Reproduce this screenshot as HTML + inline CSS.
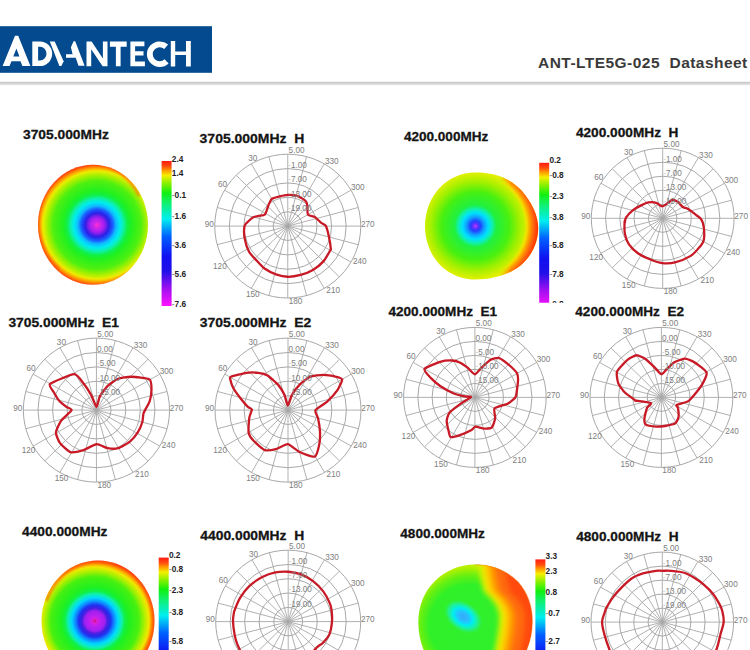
<!DOCTYPE html>
<html><head><meta charset="utf-8"><style>
html,body{margin:0;padding:0;background:#fff;width:750px;height:650px;overflow:hidden}
svg{display:block}
</style></head><body>
<svg width="750" height="650" viewBox="0 0 750 650">
<rect x="0" y="26.2" width="212" height="46.6" fill="#034b8e"/>
<g fill="#fff"><path fill-rule="evenodd" d="M2.6,66.1 L15,35.7 L18.2,35.7 L30.4,66.1 L22.4,66.1 L20.5,61.3 L11.5,61.3 L9.5,66.1 Z M16.4,48.4 L19.4,56.6 L13.3,56.6 Z"/><path fill-rule="evenodd" d="M32.3,41.5 H40 A12.2,12.3 0 0 1 40,66.1 H32.3 Z M38.1,46.7 H40 A6.5,6.95 0 0 1 40,60.6 H38.1 Z"/><path d="M49.8,41.5 L54.7,41.5 L63.6,61.2 L61.4,66 L59.4,66 Z"/><path fill-rule="evenodd" d="M73.6,41.3 L75.2,41.3 L84.6,65.8 L78.5,65.8 L75.7,57.8 L66,57.8 L66,54.2 L72.6,54.2 L70.9,47.2 Z"/><path d="M86.5,41.5 L91.6,41.5 L102.9,58.5 L102.9,41.5 L107.5,41.5 L107.5,66.3 L102.6,66.3 L91.2,49.3 L91.2,66.3 L86.5,66.3 Z"/><path d="M109.9,41.5 H126.7 V46.7 H120.6 V66.3 H115.9 V46.7 H109.9 Z"/><path d="M130.4,41.5 H144.4 V46.2 H135.1 V51.3 H143.5 V55.5 H135.1 V61.6 H144.9 V66.3 H130.4 Z"/><path d="M166.2,46.7 A9.9,9.9 0 1 0 166.6,61.3" fill="none" stroke="#fff" stroke-width="5.8"/><path d="M170.8,41 H175.2 V51.4 H186 V41 H190.8 V66.6 H186 V55 H175.2 V66.6 H170.8 Z"/></g>
<text x="538" y="67.8" font-family='"Liberation Sans", sans-serif' font-weight="bold" font-size="15.5" letter-spacing="0.46" fill="#3a3a3a" xml:space="preserve">ANT-LTE5G-025  Datasheet</text>
<rect x="0" y="81.8" width="750" height="1.2" fill="#c9c9c9"/><rect x="0" y="83" width="750" height="1" fill="#d4d4d4"/><rect x="0" y="84" width="750" height="1.2" fill="#e2e2e2"/>
<g>
<ellipse cx="287.75" cy="226.1" rx="14.60" ry="14.38" fill="none" stroke="#a8a8a8" stroke-width="1"/>
<ellipse cx="287.75" cy="226.1" rx="29.20" ry="28.76" fill="none" stroke="#a8a8a8" stroke-width="1"/>
<ellipse cx="287.75" cy="226.1" rx="43.80" ry="43.14" fill="none" stroke="#a8a8a8" stroke-width="1"/>
<ellipse cx="287.75" cy="226.1" rx="58.40" ry="57.52" fill="none" stroke="#a8a8a8" stroke-width="1"/>
<ellipse cx="287.75" cy="226.1" rx="73.00" ry="71.90" fill="none" stroke="#a8a8a8" stroke-width="1"/>
<line x1="287.75" y1="226.1" x2="287.75" y2="154.20" stroke="#a8a8a8" stroke-width="0.9"/>
<line x1="287.75" y1="226.1" x2="306.64" y2="156.65" stroke="#a8a8a8" stroke-width="0.9"/>
<line x1="287.75" y1="226.1" x2="324.25" y2="163.83" stroke="#a8a8a8" stroke-width="0.9"/>
<line x1="287.75" y1="226.1" x2="339.37" y2="175.26" stroke="#a8a8a8" stroke-width="0.9"/>
<line x1="287.75" y1="226.1" x2="350.97" y2="190.15" stroke="#a8a8a8" stroke-width="0.9"/>
<line x1="287.75" y1="226.1" x2="358.26" y2="207.49" stroke="#a8a8a8" stroke-width="0.9"/>
<line x1="287.75" y1="226.1" x2="360.75" y2="226.10" stroke="#a8a8a8" stroke-width="0.9"/>
<line x1="287.75" y1="226.1" x2="358.26" y2="244.71" stroke="#a8a8a8" stroke-width="0.9"/>
<line x1="287.75" y1="226.1" x2="350.97" y2="262.05" stroke="#a8a8a8" stroke-width="0.9"/>
<line x1="287.75" y1="226.1" x2="339.37" y2="276.94" stroke="#a8a8a8" stroke-width="0.9"/>
<line x1="287.75" y1="226.1" x2="324.25" y2="288.37" stroke="#a8a8a8" stroke-width="0.9"/>
<line x1="287.75" y1="226.1" x2="306.64" y2="295.55" stroke="#a8a8a8" stroke-width="0.9"/>
<line x1="287.75" y1="226.1" x2="287.75" y2="298.00" stroke="#a8a8a8" stroke-width="0.9"/>
<line x1="287.75" y1="226.1" x2="268.86" y2="295.55" stroke="#a8a8a8" stroke-width="0.9"/>
<line x1="287.75" y1="226.1" x2="251.25" y2="288.37" stroke="#a8a8a8" stroke-width="0.9"/>
<line x1="287.75" y1="226.1" x2="236.13" y2="276.94" stroke="#a8a8a8" stroke-width="0.9"/>
<line x1="287.75" y1="226.1" x2="224.53" y2="262.05" stroke="#a8a8a8" stroke-width="0.9"/>
<line x1="287.75" y1="226.1" x2="217.24" y2="244.71" stroke="#a8a8a8" stroke-width="0.9"/>
<line x1="287.75" y1="226.1" x2="214.75" y2="226.10" stroke="#a8a8a8" stroke-width="0.9"/>
<line x1="287.75" y1="226.1" x2="217.24" y2="207.49" stroke="#a8a8a8" stroke-width="0.9"/>
<line x1="287.75" y1="226.1" x2="224.53" y2="190.15" stroke="#a8a8a8" stroke-width="0.9"/>
<line x1="287.75" y1="226.1" x2="236.13" y2="175.26" stroke="#a8a8a8" stroke-width="0.9"/>
<line x1="287.75" y1="226.1" x2="251.25" y2="163.83" stroke="#a8a8a8" stroke-width="0.9"/>
<line x1="287.75" y1="226.1" x2="268.86" y2="156.65" stroke="#a8a8a8" stroke-width="0.9"/>
<path d="M287.69,194.92C285.62,195.03 281.62,195.94 279.69,196.40C277.77,196.86 273.38,198.18 272.31,198.62C271.23,199.05 271.51,199.15 271.08,199.85C270.65,200.54 269.63,202.31 268.86,204.15C268.09,206.00 266.18,213.15 264.92,214.62C263.66,216.08 260.15,215.54 258.77,215.85C257.38,216.15 255.08,216.46 253.85,217.08C252.62,217.69 250.08,219.69 248.92,220.77C247.77,221.85 245.15,223.54 244.62,225.69C244.08,227.85 244.08,234.77 244.62,238.00C245.15,241.23 247.46,248.77 248.92,251.54C250.38,254.31 254.31,258.00 256.31,260.15C258.31,262.31 262.46,267.00 264.92,268.77C267.38,270.54 273.15,273.31 276.00,274.31C278.85,275.31 284.62,276.69 287.69,276.77C290.77,276.85 297.46,275.77 300.62,274.92C303.77,274.08 310.08,271.69 312.92,270.00C315.77,268.31 321.23,263.82 323.38,261.38C325.54,258.95 329.23,252.17 330.15,250.55C331.08,248.94 330.92,250.18 330.77,248.46C330.62,246.74 329.54,239.58 328.92,236.77C328.31,233.95 326.85,227.71 325.85,225.94C324.85,224.17 322.31,223.72 320.92,222.62C319.54,221.51 316.38,218.08 314.77,217.08C313.15,216.08 308.92,216.00 308.00,214.62C307.08,213.23 307.62,207.62 307.38,206.00C307.15,204.38 306.77,202.62 306.15,201.69C305.54,200.77 303.69,199.38 302.46,198.62C301.23,197.85 298.15,196.00 296.31,195.54C294.46,195.08 289.77,194.82 287.69,194.92Z" fill="none" stroke="#c81a26" stroke-width="2.3" stroke-linejoin="round"/>
<g font-family='"Liberation Sans", sans-serif' font-size="8.2" fill="#7e7e7e">
<text x="324.98" y="163.98" text-anchor="start">330</text>
<text x="350.97" y="190.01" text-anchor="start">300</text>
<text x="360.97" y="226.96" text-anchor="start">270</text>
<text x="353.01" y="263.99" text-anchor="start">240</text>
<text x="326.37" y="292.97" text-anchor="start">210</text>
<text x="288.70" y="303.97" text-anchor="start">180</text>
<text x="245.99" y="297.28" text-anchor="start">150</text>
<text x="226.72" y="269.24" text-anchor="end">120</text>
<text x="213.80" y="226.82" text-anchor="end">90</text>
<text x="227.01" y="187.13" text-anchor="end">60</text>
<text x="248.18" y="160.81" text-anchor="start">30</text>
<text x="288.60" y="152.62">5.00</text>
<text x="288.25" y="167.98"><tspan fill-opacity="0.45">-</tspan>1.00</text>
<text x="288.25" y="182.36"><tspan fill-opacity="0.45">-</tspan>7.00</text>
<text x="288.25" y="196.74"><tspan fill-opacity="0.45">-</tspan>13.00</text>
<text x="288.25" y="211.12"><tspan fill-opacity="0.45">-</tspan>19.00</text>
</g>
</g>
<text x="199.6" y="143.4" transform="translate(0 143.4) scale(1 0.91) translate(0 -143.4)" font-family='"Liberation Sans", sans-serif' font-weight="bold" font-size="13.8" fill="#141414" stroke="#141414" stroke-width="0.3" xml:space="preserve" textLength="104.8" lengthAdjust="spacingAndGlyphs">3705.000MHz  H</text>
<g>
<ellipse cx="662.7" cy="218.3" rx="14.28" ry="14.02" fill="none" stroke="#a8a8a8" stroke-width="1"/>
<ellipse cx="662.7" cy="218.3" rx="28.56" ry="28.04" fill="none" stroke="#a8a8a8" stroke-width="1"/>
<ellipse cx="662.7" cy="218.3" rx="42.84" ry="42.06" fill="none" stroke="#a8a8a8" stroke-width="1"/>
<ellipse cx="662.7" cy="218.3" rx="57.12" ry="56.08" fill="none" stroke="#a8a8a8" stroke-width="1"/>
<ellipse cx="662.7" cy="218.3" rx="71.40" ry="70.10" fill="none" stroke="#a8a8a8" stroke-width="1"/>
<line x1="662.7" y1="218.3" x2="662.70" y2="148.20" stroke="#a8a8a8" stroke-width="0.9"/>
<line x1="662.7" y1="218.3" x2="681.18" y2="150.59" stroke="#a8a8a8" stroke-width="0.9"/>
<line x1="662.7" y1="218.3" x2="698.40" y2="157.59" stroke="#a8a8a8" stroke-width="0.9"/>
<line x1="662.7" y1="218.3" x2="713.19" y2="168.73" stroke="#a8a8a8" stroke-width="0.9"/>
<line x1="662.7" y1="218.3" x2="724.53" y2="183.25" stroke="#a8a8a8" stroke-width="0.9"/>
<line x1="662.7" y1="218.3" x2="731.67" y2="200.16" stroke="#a8a8a8" stroke-width="0.9"/>
<line x1="662.7" y1="218.3" x2="734.10" y2="218.30" stroke="#a8a8a8" stroke-width="0.9"/>
<line x1="662.7" y1="218.3" x2="731.67" y2="236.44" stroke="#a8a8a8" stroke-width="0.9"/>
<line x1="662.7" y1="218.3" x2="724.53" y2="253.35" stroke="#a8a8a8" stroke-width="0.9"/>
<line x1="662.7" y1="218.3" x2="713.19" y2="267.87" stroke="#a8a8a8" stroke-width="0.9"/>
<line x1="662.7" y1="218.3" x2="698.40" y2="279.01" stroke="#a8a8a8" stroke-width="0.9"/>
<line x1="662.7" y1="218.3" x2="681.18" y2="286.01" stroke="#a8a8a8" stroke-width="0.9"/>
<line x1="662.7" y1="218.3" x2="662.70" y2="288.40" stroke="#a8a8a8" stroke-width="0.9"/>
<line x1="662.7" y1="218.3" x2="644.22" y2="286.01" stroke="#a8a8a8" stroke-width="0.9"/>
<line x1="662.7" y1="218.3" x2="627.00" y2="279.01" stroke="#a8a8a8" stroke-width="0.9"/>
<line x1="662.7" y1="218.3" x2="612.21" y2="267.87" stroke="#a8a8a8" stroke-width="0.9"/>
<line x1="662.7" y1="218.3" x2="600.87" y2="253.35" stroke="#a8a8a8" stroke-width="0.9"/>
<line x1="662.7" y1="218.3" x2="593.73" y2="236.44" stroke="#a8a8a8" stroke-width="0.9"/>
<line x1="662.7" y1="218.3" x2="591.30" y2="218.30" stroke="#a8a8a8" stroke-width="0.9"/>
<line x1="662.7" y1="218.3" x2="593.73" y2="200.16" stroke="#a8a8a8" stroke-width="0.9"/>
<line x1="662.7" y1="218.3" x2="600.87" y2="183.25" stroke="#a8a8a8" stroke-width="0.9"/>
<line x1="662.7" y1="218.3" x2="612.21" y2="168.73" stroke="#a8a8a8" stroke-width="0.9"/>
<line x1="662.7" y1="218.3" x2="627.00" y2="157.59" stroke="#a8a8a8" stroke-width="0.9"/>
<line x1="662.7" y1="218.3" x2="644.22" y2="150.59" stroke="#a8a8a8" stroke-width="0.9"/>
<path d="M662.12,206.35C660.19,206.30 658.52,203.47 656.23,202.82C653.94,202.16 651.00,201.94 648.38,202.42C645.77,202.90 643.15,204.38 640.54,205.69C637.92,207.00 635.09,208.31 632.69,210.27C630.29,212.23 627.46,215.39 626.15,217.46C624.85,219.53 625.11,221.96 624.85,222.69C624.58,223.42 624.58,220.03 624.58,221.85C624.58,223.67 624.15,229.91 624.85,233.62C625.54,237.32 626.59,240.81 628.77,244.08C630.95,247.35 634.22,250.62 637.92,253.23C641.63,255.85 646.97,258.13 651.00,259.77C655.03,261.40 658.12,262.60 662.12,263.04C666.12,263.47 670.24,263.58 675.00,262.38C679.76,261.19 686.55,258.46 690.69,255.85C694.83,253.23 697.67,249.31 699.85,246.69C702.03,244.08 703.12,243.42 703.77,240.15C704.42,236.88 704.21,230.56 703.77,227.08C703.33,223.59 702.46,221.27 701.15,219.23C699.85,217.19 698.10,216.56 695.92,214.85C693.74,213.13 690.26,210.27 688.08,208.96C685.90,207.65 684.59,208.20 682.85,207.00C681.10,205.80 679.36,202.97 677.62,201.77C675.87,200.57 674.02,199.59 672.38,199.81C670.75,200.03 669.52,201.99 667.81,203.08C666.10,204.17 664.04,206.39 662.12,206.35Z" fill="none" stroke="#c81a26" stroke-width="2.3" stroke-linejoin="round"/>
<g font-family='"Liberation Sans", sans-serif' font-size="8.2" fill="#7e7e7e">
<text x="699.11" y="157.73" text-anchor="start">330</text>
<text x="724.53" y="183.11" text-anchor="start">300</text>
<text x="734.31" y="219.14" text-anchor="start">270</text>
<text x="726.53" y="255.24" text-anchor="start">240</text>
<text x="700.47" y="283.49" text-anchor="start">210</text>
<text x="663.63" y="294.22" text-anchor="start">180</text>
<text x="621.86" y="287.70" text-anchor="start">150</text>
<text x="603.01" y="260.36" text-anchor="end">120</text>
<text x="590.37" y="219.00" text-anchor="end">90</text>
<text x="603.30" y="180.31" text-anchor="end">60</text>
<text x="624.00" y="154.65" text-anchor="start">30</text>
<text x="663.55" y="146.66">5.00</text>
<text x="663.20" y="161.62"><tspan fill-opacity="0.45">-</tspan>1.00</text>
<text x="663.20" y="175.64"><tspan fill-opacity="0.45">-</tspan>7.00</text>
<text x="663.20" y="189.66"><tspan fill-opacity="0.45">-</tspan>13.00</text>
<text x="663.20" y="203.68"><tspan fill-opacity="0.45">-</tspan>19.00</text>
</g>
</g>
<text x="575.9" y="137.4" transform="translate(0 137.4) scale(1 0.91) translate(0 -137.4)" font-family='"Liberation Sans", sans-serif' font-weight="bold" font-size="13.8" fill="#141414" stroke="#141414" stroke-width="0.3" xml:space="preserve" textLength="102.6" lengthAdjust="spacingAndGlyphs">4200.000MHz  H</text>
<g>
<ellipse cx="96.45" cy="410.1" rx="14.62" ry="14.40" fill="none" stroke="#a8a8a8" stroke-width="1"/>
<ellipse cx="96.45" cy="410.1" rx="29.24" ry="28.80" fill="none" stroke="#a8a8a8" stroke-width="1"/>
<ellipse cx="96.45" cy="410.1" rx="43.86" ry="43.20" fill="none" stroke="#a8a8a8" stroke-width="1"/>
<ellipse cx="96.45" cy="410.1" rx="58.48" ry="57.60" fill="none" stroke="#a8a8a8" stroke-width="1"/>
<ellipse cx="96.45" cy="410.1" rx="73.10" ry="72.00" fill="none" stroke="#a8a8a8" stroke-width="1"/>
<line x1="96.45" y1="410.1" x2="96.45" y2="338.10" stroke="#a8a8a8" stroke-width="0.9"/>
<line x1="96.45" y1="410.1" x2="115.37" y2="340.55" stroke="#a8a8a8" stroke-width="0.9"/>
<line x1="96.45" y1="410.1" x2="133.00" y2="347.75" stroke="#a8a8a8" stroke-width="0.9"/>
<line x1="96.45" y1="410.1" x2="148.14" y2="359.19" stroke="#a8a8a8" stroke-width="0.9"/>
<line x1="96.45" y1="410.1" x2="159.76" y2="374.10" stroke="#a8a8a8" stroke-width="0.9"/>
<line x1="96.45" y1="410.1" x2="167.06" y2="391.47" stroke="#a8a8a8" stroke-width="0.9"/>
<line x1="96.45" y1="410.1" x2="169.55" y2="410.10" stroke="#a8a8a8" stroke-width="0.9"/>
<line x1="96.45" y1="410.1" x2="167.06" y2="428.73" stroke="#a8a8a8" stroke-width="0.9"/>
<line x1="96.45" y1="410.1" x2="159.76" y2="446.10" stroke="#a8a8a8" stroke-width="0.9"/>
<line x1="96.45" y1="410.1" x2="148.14" y2="461.01" stroke="#a8a8a8" stroke-width="0.9"/>
<line x1="96.45" y1="410.1" x2="133.00" y2="472.45" stroke="#a8a8a8" stroke-width="0.9"/>
<line x1="96.45" y1="410.1" x2="115.37" y2="479.65" stroke="#a8a8a8" stroke-width="0.9"/>
<line x1="96.45" y1="410.1" x2="96.45" y2="482.10" stroke="#a8a8a8" stroke-width="0.9"/>
<line x1="96.45" y1="410.1" x2="77.53" y2="479.65" stroke="#a8a8a8" stroke-width="0.9"/>
<line x1="96.45" y1="410.1" x2="59.90" y2="472.45" stroke="#a8a8a8" stroke-width="0.9"/>
<line x1="96.45" y1="410.1" x2="44.76" y2="461.01" stroke="#a8a8a8" stroke-width="0.9"/>
<line x1="96.45" y1="410.1" x2="33.14" y2="446.10" stroke="#a8a8a8" stroke-width="0.9"/>
<line x1="96.45" y1="410.1" x2="25.84" y2="428.73" stroke="#a8a8a8" stroke-width="0.9"/>
<line x1="96.45" y1="410.1" x2="23.35" y2="410.10" stroke="#a8a8a8" stroke-width="0.9"/>
<line x1="96.45" y1="410.1" x2="25.84" y2="391.47" stroke="#a8a8a8" stroke-width="0.9"/>
<line x1="96.45" y1="410.1" x2="33.14" y2="374.10" stroke="#a8a8a8" stroke-width="0.9"/>
<line x1="96.45" y1="410.1" x2="44.76" y2="359.19" stroke="#a8a8a8" stroke-width="0.9"/>
<line x1="96.45" y1="410.1" x2="59.90" y2="347.75" stroke="#a8a8a8" stroke-width="0.9"/>
<line x1="96.45" y1="410.1" x2="77.53" y2="340.55" stroke="#a8a8a8" stroke-width="0.9"/>
<path d="M96.46,406.85C95.67,406.73 92.43,397.23 91.23,395.08C90.03,392.92 84.94,385.23 83.38,383.31C81.83,381.39 77.29,374.09 74.23,374.15C71.17,374.21 51.90,382.28 50.04,383.96C48.18,385.64 53.06,390.84 53.96,392.46C54.86,394.08 58.71,400.30 59.85,401.62C60.98,402.93 65.31,406.07 66.38,406.85C67.46,407.63 72.09,408.85 71.62,410.12C71.14,411.38 62.59,418.64 61.15,420.69C59.72,422.74 56.04,430.42 55.92,432.46C55.80,434.50 58.53,441.12 59.85,442.92C61.16,444.72 68.15,451.42 70.31,452.08C72.47,452.74 80.99,450.83 83.38,450.12C85.78,449.40 94.23,444.41 96.46,444.23C98.69,444.05 105.70,447.79 107.69,448.15C109.68,448.51 116.12,448.75 118.15,448.15C120.19,447.55 128.12,443.05 129.92,441.62C131.72,440.18 136.63,434.26 137.77,432.46C138.91,430.66 141.81,423.80 142.35,422.00C142.89,420.20 142.99,414.71 143.65,412.85C144.31,410.98 148.82,403.72 149.54,401.62C150.26,399.51 151.50,391.88 151.50,389.85C151.50,387.81 151.40,380.58 149.54,379.38C147.68,378.19 134.11,376.83 131.23,376.77C128.35,376.71 120.31,377.89 118.15,378.73C116.00,379.57 109.37,384.30 107.69,385.92C106.01,387.54 100.88,394.47 99.85,396.38C98.82,398.30 97.25,406.97 96.46,406.85Z" fill="none" stroke="#c81a26" stroke-width="2.3" stroke-linejoin="round"/>
<g font-family='"Liberation Sans", sans-serif' font-size="8.2" fill="#7e7e7e">
<text x="133.73" y="347.89" text-anchor="start">330</text>
<text x="159.75" y="373.96" text-anchor="start">300</text>
<text x="169.77" y="410.96" text-anchor="start">270</text>
<text x="161.80" y="448.04" text-anchor="start">240</text>
<text x="135.12" y="477.06" text-anchor="start">210</text>
<text x="97.40" y="488.08" text-anchor="start">180</text>
<text x="54.64" y="481.38" text-anchor="start">150</text>
<text x="35.34" y="453.30" text-anchor="end">120</text>
<text x="22.40" y="410.82" text-anchor="end">90</text>
<text x="35.63" y="371.08" text-anchor="end">60</text>
<text x="56.83" y="344.72" text-anchor="start">30</text>
<text x="97.30" y="336.52">5.00</text>
<text x="96.95" y="351.90">0.00</text>
<text x="96.95" y="366.30"><tspan fill-opacity="0.45">-</tspan>5.00</text>
<text x="96.95" y="380.70"><tspan fill-opacity="0.45">-</tspan>10.00</text>
<text x="96.95" y="395.10"><tspan fill-opacity="0.45">-</tspan>15.00</text>
</g>
</g>
<text x="8.4" y="327.1" transform="translate(0 327.1) scale(1 0.91) translate(0 -327.1)" font-family='"Liberation Sans", sans-serif' font-weight="bold" font-size="13.8" fill="#141414" stroke="#141414" stroke-width="0.3" xml:space="preserve" textLength="110.6" lengthAdjust="spacingAndGlyphs">3705.000MHz  E1</text>
<g>
<ellipse cx="288.0" cy="410.1" rx="14.60" ry="14.40" fill="none" stroke="#a8a8a8" stroke-width="1"/>
<ellipse cx="288.0" cy="410.1" rx="29.20" ry="28.80" fill="none" stroke="#a8a8a8" stroke-width="1"/>
<ellipse cx="288.0" cy="410.1" rx="43.80" ry="43.20" fill="none" stroke="#a8a8a8" stroke-width="1"/>
<ellipse cx="288.0" cy="410.1" rx="58.40" ry="57.60" fill="none" stroke="#a8a8a8" stroke-width="1"/>
<ellipse cx="288.0" cy="410.1" rx="73.00" ry="72.00" fill="none" stroke="#a8a8a8" stroke-width="1"/>
<line x1="288.0" y1="410.1" x2="288.00" y2="338.10" stroke="#a8a8a8" stroke-width="0.9"/>
<line x1="288.0" y1="410.1" x2="306.89" y2="340.55" stroke="#a8a8a8" stroke-width="0.9"/>
<line x1="288.0" y1="410.1" x2="324.50" y2="347.75" stroke="#a8a8a8" stroke-width="0.9"/>
<line x1="288.0" y1="410.1" x2="339.62" y2="359.19" stroke="#a8a8a8" stroke-width="0.9"/>
<line x1="288.0" y1="410.1" x2="351.22" y2="374.10" stroke="#a8a8a8" stroke-width="0.9"/>
<line x1="288.0" y1="410.1" x2="358.51" y2="391.47" stroke="#a8a8a8" stroke-width="0.9"/>
<line x1="288.0" y1="410.1" x2="361.00" y2="410.10" stroke="#a8a8a8" stroke-width="0.9"/>
<line x1="288.0" y1="410.1" x2="358.51" y2="428.73" stroke="#a8a8a8" stroke-width="0.9"/>
<line x1="288.0" y1="410.1" x2="351.22" y2="446.10" stroke="#a8a8a8" stroke-width="0.9"/>
<line x1="288.0" y1="410.1" x2="339.62" y2="461.01" stroke="#a8a8a8" stroke-width="0.9"/>
<line x1="288.0" y1="410.1" x2="324.50" y2="472.45" stroke="#a8a8a8" stroke-width="0.9"/>
<line x1="288.0" y1="410.1" x2="306.89" y2="479.65" stroke="#a8a8a8" stroke-width="0.9"/>
<line x1="288.0" y1="410.1" x2="288.00" y2="482.10" stroke="#a8a8a8" stroke-width="0.9"/>
<line x1="288.0" y1="410.1" x2="269.11" y2="479.65" stroke="#a8a8a8" stroke-width="0.9"/>
<line x1="288.0" y1="410.1" x2="251.50" y2="472.45" stroke="#a8a8a8" stroke-width="0.9"/>
<line x1="288.0" y1="410.1" x2="236.38" y2="461.01" stroke="#a8a8a8" stroke-width="0.9"/>
<line x1="288.0" y1="410.1" x2="224.78" y2="446.10" stroke="#a8a8a8" stroke-width="0.9"/>
<line x1="288.0" y1="410.1" x2="217.49" y2="428.73" stroke="#a8a8a8" stroke-width="0.9"/>
<line x1="288.0" y1="410.1" x2="215.00" y2="410.10" stroke="#a8a8a8" stroke-width="0.9"/>
<line x1="288.0" y1="410.1" x2="217.49" y2="391.47" stroke="#a8a8a8" stroke-width="0.9"/>
<line x1="288.0" y1="410.1" x2="224.78" y2="374.10" stroke="#a8a8a8" stroke-width="0.9"/>
<line x1="288.0" y1="410.1" x2="236.38" y2="359.19" stroke="#a8a8a8" stroke-width="0.9"/>
<line x1="288.0" y1="410.1" x2="251.50" y2="347.75" stroke="#a8a8a8" stroke-width="0.9"/>
<line x1="288.0" y1="410.1" x2="269.11" y2="340.55" stroke="#a8a8a8" stroke-width="0.9"/>
<path d="M287.81,405.54C287.14,405.54 285.44,396.99 284.54,395.08C283.64,393.16 279.56,386.41 278.00,384.62C276.44,382.82 269.34,376.54 267.54,375.46C265.74,374.38 260.30,373.09 258.38,372.85C256.47,372.61 249.13,372.49 246.62,372.85C244.10,373.21 232.42,376.17 230.92,376.77C229.42,377.37 230.03,378.31 230.27,379.38C230.51,380.46 232.64,386.86 233.54,388.54C234.44,390.22 238.76,396.01 240.08,397.69C241.40,399.37 246.84,405.77 247.92,406.85C249.00,407.92 251.73,408.43 251.85,409.46C251.97,410.49 249.53,415.97 249.23,418.08C248.93,420.19 248.22,430.42 248.58,432.46C248.94,434.50 251.66,438.69 253.15,440.31C254.65,441.93 262.77,449.34 264.92,450.12C267.08,450.89 274.59,449.35 276.69,448.81C278.79,448.27 285.70,443.93 287.81,444.23C289.92,444.53 297.22,450.94 299.69,452.08C302.16,453.22 312.93,457.37 314.73,456.65C316.53,455.93 318.83,446.57 319.31,444.23C319.79,441.89 320.08,433.55 319.96,431.15C319.84,428.76 318.42,419.99 318.00,418.08C317.58,416.16 314.55,411.74 315.38,410.23C316.22,408.72 325.12,403.48 327.15,401.62C329.19,399.75 336.24,391.88 337.62,389.85C338.99,387.81 342.31,380.58 342.19,379.38C342.07,378.19 338.05,377.19 336.31,376.77C334.57,376.35 325.63,374.81 323.23,374.81C320.83,374.81 312.31,375.87 310.15,376.77C308.00,377.67 301.37,382.94 299.69,384.62C298.01,386.29 292.94,393.16 291.85,395.08C290.76,396.99 288.48,405.54 287.81,405.54Z" fill="none" stroke="#c81a26" stroke-width="2.3" stroke-linejoin="round"/>
<g font-family='"Liberation Sans", sans-serif' font-size="8.2" fill="#7e7e7e">
<text x="325.23" y="347.89" text-anchor="start">330</text>
<text x="351.22" y="373.96" text-anchor="start">300</text>
<text x="361.22" y="410.96" text-anchor="start">270</text>
<text x="353.26" y="448.04" text-anchor="start">240</text>
<text x="326.62" y="477.06" text-anchor="start">210</text>
<text x="288.95" y="488.08" text-anchor="start">180</text>
<text x="246.24" y="481.38" text-anchor="start">150</text>
<text x="226.97" y="453.30" text-anchor="end">120</text>
<text x="214.05" y="410.82" text-anchor="end">90</text>
<text x="227.26" y="371.08" text-anchor="end">60</text>
<text x="248.43" y="344.72" text-anchor="start">30</text>
<text x="288.85" y="336.52">5.00</text>
<text x="288.50" y="351.90">0.00</text>
<text x="288.50" y="366.30"><tspan fill-opacity="0.45">-</tspan>5.00</text>
<text x="288.50" y="380.70"><tspan fill-opacity="0.45">-</tspan>10.00</text>
<text x="288.50" y="395.10"><tspan fill-opacity="0.45">-</tspan>15.00</text>
</g>
</g>
<text x="199.7" y="327.0" transform="translate(0 327.0) scale(1 0.91) translate(0 -327.0)" font-family='"Liberation Sans", sans-serif' font-weight="bold" font-size="13.8" fill="#141414" stroke="#141414" stroke-width="0.3" xml:space="preserve" textLength="111.6" lengthAdjust="spacingAndGlyphs">3705.000MHz  E2</text>
<g>
<ellipse cx="474.9" cy="397.4" rx="14.26" ry="14.00" fill="none" stroke="#a8a8a8" stroke-width="1"/>
<ellipse cx="474.9" cy="397.4" rx="28.52" ry="28.00" fill="none" stroke="#a8a8a8" stroke-width="1"/>
<ellipse cx="474.9" cy="397.4" rx="42.78" ry="42.00" fill="none" stroke="#a8a8a8" stroke-width="1"/>
<ellipse cx="474.9" cy="397.4" rx="57.04" ry="56.00" fill="none" stroke="#a8a8a8" stroke-width="1"/>
<ellipse cx="474.9" cy="397.4" rx="71.30" ry="70.00" fill="none" stroke="#a8a8a8" stroke-width="1"/>
<line x1="474.9" y1="397.4" x2="474.90" y2="327.40" stroke="#a8a8a8" stroke-width="0.9"/>
<line x1="474.9" y1="397.4" x2="493.35" y2="329.79" stroke="#a8a8a8" stroke-width="0.9"/>
<line x1="474.9" y1="397.4" x2="510.55" y2="336.78" stroke="#a8a8a8" stroke-width="0.9"/>
<line x1="474.9" y1="397.4" x2="525.32" y2="347.90" stroke="#a8a8a8" stroke-width="0.9"/>
<line x1="474.9" y1="397.4" x2="536.65" y2="362.40" stroke="#a8a8a8" stroke-width="0.9"/>
<line x1="474.9" y1="397.4" x2="543.77" y2="379.28" stroke="#a8a8a8" stroke-width="0.9"/>
<line x1="474.9" y1="397.4" x2="546.20" y2="397.40" stroke="#a8a8a8" stroke-width="0.9"/>
<line x1="474.9" y1="397.4" x2="543.77" y2="415.52" stroke="#a8a8a8" stroke-width="0.9"/>
<line x1="474.9" y1="397.4" x2="536.65" y2="432.40" stroke="#a8a8a8" stroke-width="0.9"/>
<line x1="474.9" y1="397.4" x2="525.32" y2="446.90" stroke="#a8a8a8" stroke-width="0.9"/>
<line x1="474.9" y1="397.4" x2="510.55" y2="458.02" stroke="#a8a8a8" stroke-width="0.9"/>
<line x1="474.9" y1="397.4" x2="493.35" y2="465.01" stroke="#a8a8a8" stroke-width="0.9"/>
<line x1="474.9" y1="397.4" x2="474.90" y2="467.40" stroke="#a8a8a8" stroke-width="0.9"/>
<line x1="474.9" y1="397.4" x2="456.45" y2="465.01" stroke="#a8a8a8" stroke-width="0.9"/>
<line x1="474.9" y1="397.4" x2="439.25" y2="458.02" stroke="#a8a8a8" stroke-width="0.9"/>
<line x1="474.9" y1="397.4" x2="424.48" y2="446.90" stroke="#a8a8a8" stroke-width="0.9"/>
<line x1="474.9" y1="397.4" x2="413.15" y2="432.40" stroke="#a8a8a8" stroke-width="0.9"/>
<line x1="474.9" y1="397.4" x2="406.03" y2="415.52" stroke="#a8a8a8" stroke-width="0.9"/>
<line x1="474.9" y1="397.4" x2="403.60" y2="397.40" stroke="#a8a8a8" stroke-width="0.9"/>
<line x1="474.9" y1="397.4" x2="406.03" y2="379.28" stroke="#a8a8a8" stroke-width="0.9"/>
<line x1="474.9" y1="397.4" x2="413.15" y2="362.40" stroke="#a8a8a8" stroke-width="0.9"/>
<line x1="474.9" y1="397.4" x2="424.48" y2="347.90" stroke="#a8a8a8" stroke-width="0.9"/>
<line x1="474.9" y1="397.4" x2="439.25" y2="336.78" stroke="#a8a8a8" stroke-width="0.9"/>
<line x1="474.9" y1="397.4" x2="456.45" y2="329.79" stroke="#a8a8a8" stroke-width="0.9"/>
<path d="M474.81,374.23C473.54,374.23 468.99,368.77 467.62,367.69C466.24,366.61 461.21,363.12 459.77,362.46C458.33,361.80 453.72,360.56 451.92,360.50C450.12,360.44 442.67,361.03 440.15,361.81C437.64,362.59 425.30,367.50 424.46,369.00C423.62,370.50 429.56,376.60 431.00,378.15C432.44,379.71 438.12,384.62 440.15,386.00C442.19,387.38 450.95,392.23 453.23,393.19C455.51,394.15 463.38,396.10 465.00,396.46C466.62,396.82 471.36,396.39 470.88,397.12C470.41,397.85 461.75,402.97 459.77,404.42C457.79,405.87 450.51,411.42 449.31,412.92C448.11,414.42 446.75,419.09 446.69,420.77C446.63,422.45 448.29,429.73 448.65,431.23C449.01,432.73 449.60,436.76 450.62,437.12C451.63,437.48 457.85,435.81 459.77,435.15C461.69,434.49 470.10,430.70 471.54,429.92C472.98,429.14 474.31,426.77 475.46,426.65C476.61,426.53 482.57,428.56 484.08,428.62C485.59,428.68 490.90,428.27 491.92,427.31C492.94,426.35 494.95,419.89 495.19,418.15C495.43,416.42 493.40,409.66 494.54,408.35C495.68,407.03 505.70,404.79 507.62,403.77C509.53,402.75 514.62,398.38 515.46,397.23C516.30,396.08 516.53,392.86 516.77,391.23C517.01,389.60 518.08,381.14 518.08,379.46C518.08,377.78 517.73,374.36 516.77,372.92C515.81,371.48 509.29,365.15 507.62,363.77C505.94,362.39 500.02,358.24 498.46,357.88C496.90,357.52 492.17,358.95 490.62,359.85C489.06,360.75 482.91,366.37 481.46,367.69C480.01,369.01 476.08,374.23 474.81,374.23Z" fill="none" stroke="#c81a26" stroke-width="2.3" stroke-linejoin="round"/>
<g font-family='"Liberation Sans", sans-serif' font-size="8.2" fill="#7e7e7e">
<text x="511.26" y="336.92" text-anchor="start">330</text>
<text x="536.65" y="362.26" text-anchor="start">300</text>
<text x="546.41" y="398.24" text-anchor="start">270</text>
<text x="538.64" y="434.29" text-anchor="start">240</text>
<text x="512.62" y="462.50" text-anchor="start">210</text>
<text x="475.83" y="473.21" text-anchor="start">180</text>
<text x="434.12" y="466.70" text-anchor="start">150</text>
<text x="415.29" y="439.40" text-anchor="end">120</text>
<text x="402.67" y="398.10" text-anchor="end">90</text>
<text x="415.58" y="359.46" text-anchor="end">60</text>
<text x="436.26" y="333.84" text-anchor="start">30</text>
<text x="475.75" y="325.86">5.00</text>
<text x="475.40" y="340.80">0.00</text>
<text x="475.40" y="354.80"><tspan fill-opacity="0.45">-</tspan>5.00</text>
<text x="475.40" y="368.80"><tspan fill-opacity="0.45">-</tspan>10.00</text>
<text x="475.40" y="382.80"><tspan fill-opacity="0.45">-</tspan>15.00</text>
</g>
</g>
<text x="388.4" y="316.3" transform="translate(0 316.3) scale(1 0.91) translate(0 -316.3)" font-family='"Liberation Sans", sans-serif' font-weight="bold" font-size="13.8" fill="#141414" stroke="#141414" stroke-width="0.3" xml:space="preserve" textLength="108.8" lengthAdjust="spacingAndGlyphs">4200.000MHz  E1</text>
<g>
<ellipse cx="661.4" cy="397.4" rx="14.28" ry="14.00" fill="none" stroke="#a8a8a8" stroke-width="1"/>
<ellipse cx="661.4" cy="397.4" rx="28.56" ry="28.00" fill="none" stroke="#a8a8a8" stroke-width="1"/>
<ellipse cx="661.4" cy="397.4" rx="42.84" ry="42.00" fill="none" stroke="#a8a8a8" stroke-width="1"/>
<ellipse cx="661.4" cy="397.4" rx="57.12" ry="56.00" fill="none" stroke="#a8a8a8" stroke-width="1"/>
<ellipse cx="661.4" cy="397.4" rx="71.40" ry="70.00" fill="none" stroke="#a8a8a8" stroke-width="1"/>
<line x1="661.4" y1="397.4" x2="661.40" y2="327.40" stroke="#a8a8a8" stroke-width="0.9"/>
<line x1="661.4" y1="397.4" x2="679.88" y2="329.79" stroke="#a8a8a8" stroke-width="0.9"/>
<line x1="661.4" y1="397.4" x2="697.10" y2="336.78" stroke="#a8a8a8" stroke-width="0.9"/>
<line x1="661.4" y1="397.4" x2="711.89" y2="347.90" stroke="#a8a8a8" stroke-width="0.9"/>
<line x1="661.4" y1="397.4" x2="723.23" y2="362.40" stroke="#a8a8a8" stroke-width="0.9"/>
<line x1="661.4" y1="397.4" x2="730.37" y2="379.28" stroke="#a8a8a8" stroke-width="0.9"/>
<line x1="661.4" y1="397.4" x2="732.80" y2="397.40" stroke="#a8a8a8" stroke-width="0.9"/>
<line x1="661.4" y1="397.4" x2="730.37" y2="415.52" stroke="#a8a8a8" stroke-width="0.9"/>
<line x1="661.4" y1="397.4" x2="723.23" y2="432.40" stroke="#a8a8a8" stroke-width="0.9"/>
<line x1="661.4" y1="397.4" x2="711.89" y2="446.90" stroke="#a8a8a8" stroke-width="0.9"/>
<line x1="661.4" y1="397.4" x2="697.10" y2="458.02" stroke="#a8a8a8" stroke-width="0.9"/>
<line x1="661.4" y1="397.4" x2="679.88" y2="465.01" stroke="#a8a8a8" stroke-width="0.9"/>
<line x1="661.4" y1="397.4" x2="661.40" y2="467.40" stroke="#a8a8a8" stroke-width="0.9"/>
<line x1="661.4" y1="397.4" x2="642.92" y2="465.01" stroke="#a8a8a8" stroke-width="0.9"/>
<line x1="661.4" y1="397.4" x2="625.70" y2="458.02" stroke="#a8a8a8" stroke-width="0.9"/>
<line x1="661.4" y1="397.4" x2="610.91" y2="446.90" stroke="#a8a8a8" stroke-width="0.9"/>
<line x1="661.4" y1="397.4" x2="599.57" y2="432.40" stroke="#a8a8a8" stroke-width="0.9"/>
<line x1="661.4" y1="397.4" x2="592.43" y2="415.52" stroke="#a8a8a8" stroke-width="0.9"/>
<line x1="661.4" y1="397.4" x2="590.00" y2="397.40" stroke="#a8a8a8" stroke-width="0.9"/>
<line x1="661.4" y1="397.4" x2="592.43" y2="379.28" stroke="#a8a8a8" stroke-width="0.9"/>
<line x1="661.4" y1="397.4" x2="599.57" y2="362.40" stroke="#a8a8a8" stroke-width="0.9"/>
<line x1="661.4" y1="397.4" x2="610.91" y2="347.90" stroke="#a8a8a8" stroke-width="0.9"/>
<line x1="661.4" y1="397.4" x2="625.70" y2="336.78" stroke="#a8a8a8" stroke-width="0.9"/>
<line x1="661.4" y1="397.4" x2="642.92" y2="329.79" stroke="#a8a8a8" stroke-width="0.9"/>
<path d="M661.46,374.23C660.19,374.05 655.05,367.76 653.62,366.38C652.18,365.01 647.33,360.21 645.77,359.19C644.21,358.17 638.29,355.21 636.62,355.27C634.94,355.33 629.26,358.35 627.46,359.85C625.66,361.34 617.84,369.46 617.00,371.62C616.16,373.77 617.59,381.47 618.31,383.38C619.03,385.30 623.29,390.98 624.85,392.54C626.40,394.10 634.35,399.65 635.31,400.38C636.27,401.11 633.87,400.25 635.31,400.50C636.75,400.75 649.92,402.46 651.00,403.12C652.08,403.77 647.68,406.31 647.08,407.69C646.48,409.07 644.58,416.60 644.46,418.15C644.34,419.71 644.69,423.91 645.77,424.69C646.85,425.47 654.48,426.53 656.23,426.65C657.98,426.77 663.10,426.30 664.85,426.00C666.59,425.70 674.05,424.22 675.31,423.38C676.57,422.55 678.34,418.28 678.58,416.85C678.82,415.41 678.10,408.77 677.92,407.69C677.74,406.61 675.66,405.68 676.62,405.08C677.57,404.48 686.59,402.30 688.38,401.15C690.18,400.00 694.91,394.17 696.23,392.54C697.55,390.91 701.81,385.18 702.77,383.38C703.73,381.59 706.93,374.48 706.69,372.92C706.45,371.36 701.47,367.46 700.15,366.38C698.84,365.31 693.75,361.87 692.31,361.15C690.87,360.43 686.14,358.42 684.46,358.54C682.78,358.66 675.56,361.56 674.00,362.46C672.44,363.36 668.61,367.27 667.46,368.35C666.31,369.43 662.73,374.41 661.46,374.23Z" fill="none" stroke="#c81a26" stroke-width="2.3" stroke-linejoin="round"/>
<g font-family='"Liberation Sans", sans-serif' font-size="8.2" fill="#7e7e7e">
<text x="697.81" y="336.92" text-anchor="start">330</text>
<text x="723.23" y="362.26" text-anchor="start">300</text>
<text x="733.01" y="398.24" text-anchor="start">270</text>
<text x="725.23" y="434.29" text-anchor="start">240</text>
<text x="699.17" y="462.50" text-anchor="start">210</text>
<text x="662.33" y="473.21" text-anchor="start">180</text>
<text x="620.56" y="466.70" text-anchor="start">150</text>
<text x="601.71" y="439.40" text-anchor="end">120</text>
<text x="589.07" y="398.10" text-anchor="end">90</text>
<text x="602.00" y="359.46" text-anchor="end">60</text>
<text x="622.70" y="333.84" text-anchor="start">30</text>
<text x="662.25" y="325.86">5.00</text>
<text x="661.90" y="340.80">0.00</text>
<text x="661.90" y="354.80"><tspan fill-opacity="0.45">-</tspan>5.00</text>
<text x="661.90" y="368.80"><tspan fill-opacity="0.45">-</tspan>10.00</text>
<text x="661.90" y="382.80"><tspan fill-opacity="0.45">-</tspan>15.00</text>
</g>
</g>
<text x="575.3" y="316.3" transform="translate(0 316.3) scale(1 0.91) translate(0 -316.3)" font-family='"Liberation Sans", sans-serif' font-weight="bold" font-size="13.8" fill="#141414" stroke="#141414" stroke-width="0.3" xml:space="preserve" textLength="108.8" lengthAdjust="spacingAndGlyphs">4200.000MHz  E2</text>
<g>
<ellipse cx="288.2" cy="621.6" rx="14.50" ry="14.28" fill="none" stroke="#a8a8a8" stroke-width="1"/>
<ellipse cx="288.2" cy="621.6" rx="29.00" ry="28.56" fill="none" stroke="#a8a8a8" stroke-width="1"/>
<ellipse cx="288.2" cy="621.6" rx="43.50" ry="42.84" fill="none" stroke="#a8a8a8" stroke-width="1"/>
<ellipse cx="288.2" cy="621.6" rx="58.00" ry="57.12" fill="none" stroke="#a8a8a8" stroke-width="1"/>
<ellipse cx="288.2" cy="621.6" rx="72.50" ry="71.40" fill="none" stroke="#a8a8a8" stroke-width="1"/>
<line x1="288.2" y1="621.6" x2="288.20" y2="550.20" stroke="#a8a8a8" stroke-width="0.9"/>
<line x1="288.2" y1="621.6" x2="306.96" y2="552.63" stroke="#a8a8a8" stroke-width="0.9"/>
<line x1="288.2" y1="621.6" x2="324.45" y2="559.77" stroke="#a8a8a8" stroke-width="0.9"/>
<line x1="288.2" y1="621.6" x2="339.47" y2="571.11" stroke="#a8a8a8" stroke-width="0.9"/>
<line x1="288.2" y1="621.6" x2="350.99" y2="585.90" stroke="#a8a8a8" stroke-width="0.9"/>
<line x1="288.2" y1="621.6" x2="358.23" y2="603.12" stroke="#a8a8a8" stroke-width="0.9"/>
<line x1="288.2" y1="621.6" x2="360.70" y2="621.60" stroke="#a8a8a8" stroke-width="0.9"/>
<line x1="288.2" y1="621.6" x2="358.23" y2="640.08" stroke="#a8a8a8" stroke-width="0.9"/>
<line x1="288.2" y1="621.6" x2="350.99" y2="657.30" stroke="#a8a8a8" stroke-width="0.9"/>
<line x1="288.2" y1="621.6" x2="339.47" y2="672.09" stroke="#a8a8a8" stroke-width="0.9"/>
<line x1="288.2" y1="621.6" x2="324.45" y2="683.43" stroke="#a8a8a8" stroke-width="0.9"/>
<line x1="288.2" y1="621.6" x2="306.96" y2="690.57" stroke="#a8a8a8" stroke-width="0.9"/>
<line x1="288.2" y1="621.6" x2="288.20" y2="693.00" stroke="#a8a8a8" stroke-width="0.9"/>
<line x1="288.2" y1="621.6" x2="269.44" y2="690.57" stroke="#a8a8a8" stroke-width="0.9"/>
<line x1="288.2" y1="621.6" x2="251.95" y2="683.43" stroke="#a8a8a8" stroke-width="0.9"/>
<line x1="288.2" y1="621.6" x2="236.93" y2="672.09" stroke="#a8a8a8" stroke-width="0.9"/>
<line x1="288.2" y1="621.6" x2="225.41" y2="657.30" stroke="#a8a8a8" stroke-width="0.9"/>
<line x1="288.2" y1="621.6" x2="218.17" y2="640.08" stroke="#a8a8a8" stroke-width="0.9"/>
<line x1="288.2" y1="621.6" x2="215.70" y2="621.60" stroke="#a8a8a8" stroke-width="0.9"/>
<line x1="288.2" y1="621.6" x2="218.17" y2="603.12" stroke="#a8a8a8" stroke-width="0.9"/>
<line x1="288.2" y1="621.6" x2="225.41" y2="585.90" stroke="#a8a8a8" stroke-width="0.9"/>
<line x1="288.2" y1="621.6" x2="236.93" y2="571.11" stroke="#a8a8a8" stroke-width="0.9"/>
<line x1="288.2" y1="621.6" x2="251.95" y2="559.77" stroke="#a8a8a8" stroke-width="0.9"/>
<line x1="288.2" y1="621.6" x2="269.44" y2="552.63" stroke="#a8a8a8" stroke-width="0.9"/>
<path d="M288.46,571.77C284.19,571.44 279.74,571.55 275.38,572.42C271.03,573.29 266.67,574.71 262.31,577.00C257.95,579.29 252.94,582.67 249.23,586.15C245.53,589.64 242.47,594.00 240.08,597.92C237.68,601.85 235.88,607.21 234.85,609.69C233.82,612.17 234.21,610.87 233.90,612.80C233.59,614.73 232.90,617.75 233.00,621.30C233.10,624.85 233.88,630.53 234.50,634.10C235.12,637.67 235.80,640.05 236.70,642.70C237.60,645.35 237.68,645.45 239.90,650.00C242.12,654.55 241.98,663.33 250.00,670.00C258.02,676.67 278.83,690.00 288.00,690.00C297.17,690.00 300.58,676.67 305.00,670.00C309.42,663.33 311.48,654.55 314.50,650.00C317.52,645.45 320.60,645.35 323.10,642.70C325.60,640.05 328.02,637.67 329.50,634.10C330.98,630.53 331.65,625.20 332.00,621.30C332.35,617.40 331.97,613.72 331.60,610.70C331.23,607.68 331.16,606.37 329.77,603.15C328.37,599.93 326.06,595.09 323.23,591.38C320.40,587.68 316.47,583.76 312.77,580.92C309.06,578.09 305.05,575.91 301.00,574.38C296.95,572.86 292.73,572.10 288.46,571.77Z" fill="none" stroke="#c81a26" stroke-width="2.3" stroke-linejoin="round"/>
<g font-family='"Liberation Sans", sans-serif' font-size="8.2" fill="#7e7e7e">
<text x="325.18" y="559.91" text-anchor="start">330</text>
<text x="350.99" y="585.76" text-anchor="start">300</text>
<text x="360.92" y="622.46" text-anchor="start">270</text>
<text x="353.01" y="659.23" text-anchor="start">240</text>
<text x="326.55" y="688.00" text-anchor="start">210</text>
<text x="289.14" y="698.93" text-anchor="start">180</text>
<text x="246.73" y="692.29" text-anchor="start">150</text>
<text x="227.59" y="664.44" text-anchor="end">120</text>
<text x="214.76" y="622.31" text-anchor="end">90</text>
<text x="227.88" y="582.90" text-anchor="end">60</text>
<text x="248.90" y="556.77" text-anchor="start">30</text>
<text x="289.05" y="548.63">5.00</text>
<text x="288.70" y="563.88"><tspan fill-opacity="0.45">-</tspan>1.00</text>
<text x="288.70" y="578.16"><tspan fill-opacity="0.45">-</tspan>7.00</text>
<text x="288.70" y="592.44"><tspan fill-opacity="0.45">-</tspan>13.00</text>
<text x="288.70" y="606.72"><tspan fill-opacity="0.45">-</tspan>19.00</text>
</g>
</g>
<text x="200.3" y="539.6" transform="translate(0 539.6) scale(1 0.91) translate(0 -539.6)" font-family='"Liberation Sans", sans-serif' font-weight="bold" font-size="13.8" fill="#141414" stroke="#141414" stroke-width="0.3" xml:space="preserve" textLength="103.9" lengthAdjust="spacingAndGlyphs">4400.000MHz  H</text>
<g>
<ellipse cx="662.3" cy="622.1" rx="14.26" ry="14.00" fill="none" stroke="#a8a8a8" stroke-width="1"/>
<ellipse cx="662.3" cy="622.1" rx="28.52" ry="28.00" fill="none" stroke="#a8a8a8" stroke-width="1"/>
<ellipse cx="662.3" cy="622.1" rx="42.78" ry="42.00" fill="none" stroke="#a8a8a8" stroke-width="1"/>
<ellipse cx="662.3" cy="622.1" rx="57.04" ry="56.00" fill="none" stroke="#a8a8a8" stroke-width="1"/>
<ellipse cx="662.3" cy="622.1" rx="71.30" ry="70.00" fill="none" stroke="#a8a8a8" stroke-width="1"/>
<line x1="662.3" y1="622.1" x2="662.30" y2="552.10" stroke="#a8a8a8" stroke-width="0.9"/>
<line x1="662.3" y1="622.1" x2="680.75" y2="554.49" stroke="#a8a8a8" stroke-width="0.9"/>
<line x1="662.3" y1="622.1" x2="697.95" y2="561.48" stroke="#a8a8a8" stroke-width="0.9"/>
<line x1="662.3" y1="622.1" x2="712.72" y2="572.60" stroke="#a8a8a8" stroke-width="0.9"/>
<line x1="662.3" y1="622.1" x2="724.05" y2="587.10" stroke="#a8a8a8" stroke-width="0.9"/>
<line x1="662.3" y1="622.1" x2="731.17" y2="603.98" stroke="#a8a8a8" stroke-width="0.9"/>
<line x1="662.3" y1="622.1" x2="733.60" y2="622.10" stroke="#a8a8a8" stroke-width="0.9"/>
<line x1="662.3" y1="622.1" x2="731.17" y2="640.22" stroke="#a8a8a8" stroke-width="0.9"/>
<line x1="662.3" y1="622.1" x2="724.05" y2="657.10" stroke="#a8a8a8" stroke-width="0.9"/>
<line x1="662.3" y1="622.1" x2="712.72" y2="671.60" stroke="#a8a8a8" stroke-width="0.9"/>
<line x1="662.3" y1="622.1" x2="697.95" y2="682.72" stroke="#a8a8a8" stroke-width="0.9"/>
<line x1="662.3" y1="622.1" x2="680.75" y2="689.71" stroke="#a8a8a8" stroke-width="0.9"/>
<line x1="662.3" y1="622.1" x2="662.30" y2="692.10" stroke="#a8a8a8" stroke-width="0.9"/>
<line x1="662.3" y1="622.1" x2="643.85" y2="689.71" stroke="#a8a8a8" stroke-width="0.9"/>
<line x1="662.3" y1="622.1" x2="626.65" y2="682.72" stroke="#a8a8a8" stroke-width="0.9"/>
<line x1="662.3" y1="622.1" x2="611.88" y2="671.60" stroke="#a8a8a8" stroke-width="0.9"/>
<line x1="662.3" y1="622.1" x2="600.55" y2="657.10" stroke="#a8a8a8" stroke-width="0.9"/>
<line x1="662.3" y1="622.1" x2="593.43" y2="640.22" stroke="#a8a8a8" stroke-width="0.9"/>
<line x1="662.3" y1="622.1" x2="591.00" y2="622.10" stroke="#a8a8a8" stroke-width="0.9"/>
<line x1="662.3" y1="622.1" x2="593.43" y2="603.98" stroke="#a8a8a8" stroke-width="0.9"/>
<line x1="662.3" y1="622.1" x2="600.55" y2="587.10" stroke="#a8a8a8" stroke-width="0.9"/>
<line x1="662.3" y1="622.1" x2="611.88" y2="572.60" stroke="#a8a8a8" stroke-width="0.9"/>
<line x1="662.3" y1="622.1" x2="626.65" y2="561.48" stroke="#a8a8a8" stroke-width="0.9"/>
<line x1="662.3" y1="622.1" x2="643.85" y2="554.49" stroke="#a8a8a8" stroke-width="0.9"/>
<path d="M662.20,570.81C659.67,570.81 659.15,570.37 655.92,570.81C652.70,571.24 646.77,572.22 642.85,573.42C638.92,574.62 635.87,575.71 632.38,578.00C628.90,580.29 625.19,583.88 621.92,587.15C618.65,590.42 615.38,594.13 612.77,597.62C610.15,601.10 607.48,605.90 606.23,608.08C604.99,610.26 605.99,608.41 605.30,610.70C604.61,612.99 602.27,617.90 602.10,621.80C601.93,625.70 603.05,629.40 604.30,634.10C605.55,638.80 606.98,643.18 609.60,650.00C612.22,656.82 611.27,667.50 620.00,675.00C628.73,682.50 647.83,695.00 662.00,695.00C676.17,695.00 695.95,682.50 705.00,675.00C714.05,667.50 713.72,656.82 716.30,650.00C718.88,643.18 719.27,638.80 720.50,634.10C721.73,629.40 723.42,625.70 723.70,621.80C723.98,617.90 722.91,613.64 722.20,610.70C721.49,607.76 721.01,606.99 719.46,604.15C717.92,601.32 715.54,596.96 712.92,593.69C710.31,590.42 706.82,587.15 703.77,584.54C700.72,581.92 697.88,579.96 694.62,578.00C691.35,576.04 688.08,573.97 684.15,572.77C680.23,571.57 674.74,571.13 671.08,570.81C667.42,570.48 664.73,570.81 662.20,570.81Z" fill="none" stroke="#c81a26" stroke-width="2.3" stroke-linejoin="round"/>
<g font-family='"Liberation Sans", sans-serif' font-size="8.2" fill="#7e7e7e">
<text x="698.66" y="561.62" text-anchor="start">330</text>
<text x="724.05" y="586.96" text-anchor="start">300</text>
<text x="733.81" y="622.94" text-anchor="start">270</text>
<text x="726.04" y="658.99" text-anchor="start">240</text>
<text x="700.02" y="687.20" text-anchor="start">210</text>
<text x="663.23" y="697.91" text-anchor="start">180</text>
<text x="621.52" y="691.40" text-anchor="start">150</text>
<text x="602.69" y="664.10" text-anchor="end">120</text>
<text x="590.07" y="622.80" text-anchor="end">90</text>
<text x="602.98" y="584.16" text-anchor="end">60</text>
<text x="623.66" y="558.54" text-anchor="start">30</text>
<text x="663.15" y="550.56">5.00</text>
<text x="662.80" y="565.50"><tspan fill-opacity="0.45">-</tspan>1.00</text>
<text x="662.80" y="579.50"><tspan fill-opacity="0.45">-</tspan>7.00</text>
<text x="662.80" y="593.50"><tspan fill-opacity="0.45">-</tspan>13.00</text>
<text x="662.80" y="607.50"><tspan fill-opacity="0.45">-</tspan>19.00</text>
</g>
</g>
<text x="576.2" y="541.1" transform="translate(0 541.1) scale(1 0.91) translate(0 -541.1)" font-family='"Liberation Sans", sans-serif' font-weight="bold" font-size="13.8" fill="#141414" stroke="#141414" stroke-width="0.3" xml:space="preserve" textLength="102.3" lengthAdjust="spacingAndGlyphs">4800.000MHz  H</text>
<text x="23.0" y="138.9" transform="translate(0 138.9) scale(1 0.91) translate(0 -138.9)" font-family='"Liberation Sans", sans-serif' font-weight="bold" font-size="13.8" fill="#141414" stroke="#141414" stroke-width="0.3" xml:space="preserve" textLength="85.8" lengthAdjust="spacingAndGlyphs">3705.000MHz</text>
<text x="403.9" y="141.1" transform="translate(0 141.1) scale(1 0.91) translate(0 -141.1)" font-family='"Liberation Sans", sans-serif' font-weight="bold" font-size="13.8" fill="#141414" stroke="#141414" stroke-width="0.3" xml:space="preserve" textLength="84.4" lengthAdjust="spacingAndGlyphs">4200.000MHz</text>
<text x="22.1" y="535.6" transform="translate(0 535.6) scale(1 0.91) translate(0 -535.6)" font-family='"Liberation Sans", sans-serif' font-weight="bold" font-size="13.8" fill="#141414" stroke="#141414" stroke-width="0.3" xml:space="preserve" textLength="85.3" lengthAdjust="spacingAndGlyphs">4400.000MHz</text>
<text x="400.3" y="537.6" transform="translate(0 537.6) scale(1 0.91) translate(0 -537.6)" font-family='"Liberation Sans", sans-serif' font-weight="bold" font-size="13.8" fill="#141414" stroke="#141414" stroke-width="0.3" xml:space="preserve" textLength="84.6" lengthAdjust="spacingAndGlyphs">4800.000MHz</text>
<defs><filter id="bl1" x="-20%" y="-20%" width="140%" height="140%"><feGaussianBlur stdDeviation="1.2"/></filter><filter id="bl2" x="-20%" y="-20%" width="140%" height="140%"><feGaussianBlur stdDeviation="2.5"/></filter><radialGradient id="gA1" gradientUnits="userSpaceOnUse" cx="97" cy="225" r="62"><stop offset="0.0000" stop-color="#ff30d0"/><stop offset="0.0484" stop-color="#d028e8"/><stop offset="0.1129" stop-color="#a820f0"/><stop offset="0.1532" stop-color="#6a20e8"/><stop offset="0.1935" stop-color="#2a20e8"/><stop offset="0.2581" stop-color="#1a60ff"/><stop offset="0.3065" stop-color="#10b8ff"/><stop offset="0.3710" stop-color="#00ecf0"/><stop offset="0.4355" stop-color="#10f0a0"/><stop offset="0.4839" stop-color="#10f048"/><stop offset="0.5484" stop-color="#20f020"/><stop offset="0.7097" stop-color="#50f010"/><stop offset="0.8065" stop-color="#a8f000"/><stop offset="0.8710" stop-color="#ecec00"/><stop offset="0.9194" stop-color="#ffa000"/><stop offset="0.9677" stop-color="#ff5010"/><stop offset="1.0000" stop-color="#ff3010"/></radialGradient><clipPath id="cA1"><ellipse cx="93" cy="224.8" rx="55" ry="60"/></clipPath><clipPath id="cC1"><ellipse cx="98" cy="621" rx="56.5" ry="60.6"/></clipPath></defs>
<ellipse cx="93" cy="224.8" rx="55" ry="60" fill="url(#gA1)"/>
<path d="M59,269 A53.6,58.6 0 1 1 139.2,195.8" fill="none" stroke="#ff4a10" stroke-width="2.8" opacity="0.55" clip-path="url(#cA1)" filter="url(#bl1)"/>
<defs><radialGradient id="gA3" gradientUnits="userSpaceOnUse" cx="475.4" cy="226" r="56"><stop offset="0.0000" stop-color="#d040ff"/><stop offset="0.0357" stop-color="#7030ff"/><stop offset="0.0893" stop-color="#2040ff"/><stop offset="0.1607" stop-color="#10a0ff"/><stop offset="0.2321" stop-color="#00e0ff"/><stop offset="0.3036" stop-color="#10f0b0"/><stop offset="0.3750" stop-color="#20f040"/><stop offset="0.6071" stop-color="#48f010"/><stop offset="0.7857" stop-color="#a0f000"/><stop offset="0.9286" stop-color="#d8f000"/><stop offset="1.0000" stop-color="#e8f000"/></radialGradient><radialGradient id="gA3c" gradientUnits="userSpaceOnUse" cx="475.4" cy="226" r="63"><stop offset="0.0000" stop-color="#ffe000" stop-opacity="0"/><stop offset="0.7778" stop-color="#ffe000" stop-opacity="0"/><stop offset="0.8175" stop-color="#f0e000"/><stop offset="0.8730" stop-color="#ff9800"/><stop offset="0.9365" stop-color="#ff5a10"/><stop offset="1.0000" stop-color="#ff3000"/></radialGradient><linearGradient id="mA3g" gradientUnits="userSpaceOnUse" x1="499" y1="0" x2="511" y2="0"><stop offset="0" stop-color="#000"/><stop offset="1" stop-color="#fff"/></linearGradient><mask id="mA3" maskUnits="userSpaceOnUse" x="400" y="150" width="160" height="150"><rect x="400" y="150" width="160" height="150" fill="url(#mA3g)"/></mask></defs>
<path d="M475.4,172.5 C495,172.5 510,178 522,191 C532,203 538,215 538.2,228 C538.2,242 532,256 520,266 C508,275 492,279.5 475.4,279.5 C446,279.5 425,256 425,226 C425,196 447,172.5 475.4,172.5 Z" fill="url(#gA3)"/>
<path d="M475.4,172.5 C495,172.5 510,178 522,191 C532,203 538,215 538.2,228 C538.2,242 532,256 520,266 C508,275 492,279.5 475.4,279.5 C446,279.5 425,256 425,226 C425,196 447,172.5 475.4,172.5 Z" fill="url(#gA3c)" mask="url(#mA3)"/>
<defs><radialGradient id="gC1" gradientUnits="userSpaceOnUse" cx="94.8" cy="621" r="61"><stop offset="0.0000" stop-color="#c01070"/><stop offset="0.0328" stop-color="#e020d0"/><stop offset="0.0820" stop-color="#c020f0"/><stop offset="0.1639" stop-color="#a020f0"/><stop offset="0.2131" stop-color="#4020e0"/><stop offset="0.2623" stop-color="#2030f0"/><stop offset="0.3115" stop-color="#1080ff"/><stop offset="0.3770" stop-color="#00d8ff"/><stop offset="0.4426" stop-color="#10f0b0"/><stop offset="0.4918" stop-color="#10f048"/><stop offset="0.5574" stop-color="#20f020"/><stop offset="0.7213" stop-color="#48f010"/><stop offset="0.8197" stop-color="#b0f000"/><stop offset="0.8852" stop-color="#f0e800"/><stop offset="0.9344" stop-color="#ffa000"/><stop offset="1.0000" stop-color="#ff4010"/></radialGradient></defs>
<ellipse cx="98" cy="621" rx="56.5" ry="60.6" fill="url(#gC1)"/>
<path d="M46.5,600.8 A55,59.1 0 1 1 140.2,658.8" fill="none" stroke="#ff4010" stroke-width="3" opacity="0.55" clip-path="url(#cC1)" filter="url(#bl1)"/>
<defs><clipPath id="cC3"><path d="M475.3,564.5 C492,564.5 507,571 518,582 C527,592 532.3,606 532.3,621.5 C532.3,640 526,655 515,670 L435,670 C424,655 418.3,640 418.3,621.5 C418.3,590 443,564.5 475.3,564.5 Z"/></clipPath><radialGradient id="gC3base" gradientUnits="userSpaceOnUse" cx="470" cy="625" r="58"><stop offset="0" stop-color="#30f030"/><stop offset="0.7" stop-color="#30f028"/><stop offset="0.86" stop-color="#68f010"/><stop offset="1" stop-color="#b8f000"/></radialGradient><radialGradient id="gC3core" cx="0.5" cy="0.5" r="0.5"><stop offset="0" stop-color="#38a8f8"/><stop offset="0.28" stop-color="#28c0ff"/><stop offset="0.5" stop-color="#00eef0"/><stop offset="0.75" stop-color="#20f0a0" stop-opacity="0.8"/><stop offset="1" stop-color="#30f030" stop-opacity="0"/></radialGradient><filter id="bl3" x="-30%" y="-30%" width="160%" height="160%"><feGaussianBlur stdDeviation="2.6"/></filter></defs>
<g clip-path="url(#cC3)">
<rect x="410" y="555" width="130" height="100" fill="url(#gC3base)"/>
<ellipse cx="463.2" cy="616.6" rx="22" ry="15" transform="rotate(35 463.2 616.6)" fill="url(#gC3core)"/>
<g filter="url(#bl3)"><path d="M476,550 C479,568 481,584 484,592 C492,599 498,606 499,616 C499,630 496,642 492,665 L570,665 L570,550 Z" fill="#d8f000"/><path d="M481,550 C484,568 486,584 489,592 C497,599 503,606 504,616 C504,630 501,642 497,665 L570,665 L570,550 Z" fill="#ffd000"/><path d="M486,550 C489,568 491,584 494,592 C502,599 508,606 509,616 C509,630 506,642 502,665 L570,665 L570,550 Z" fill="#ff9800"/><path d="M492,550 C495,568 497,584 500,592 C508,599 514,606 515,616 C515,630 512,642 508,665 L570,665 L570,550 Z" fill="#ff6a10"/><path d="M502,550 C505,568 507,584 510,592 C518,599 524,606 525,616 C525,630 522,642 518,665 L570,665 L570,550 Z" fill="#ff4a08"/></g>
</g>
<path d="M475.3,564.5 C492,564.5 507,571 518,582 C527,592 532.3,606 532.3,621.5 C532.3,640 526,655 515,670" fill="none" stroke="#ff4a10" stroke-width="1.2" opacity="0.35"/>
<defs><linearGradient id="cb162_161" x1="0" y1="0" x2="0" y2="1"><stop offset="0" stop-color="#ff1a10"/><stop offset="0.035" stop-color="#ff4a10"/><stop offset="0.065" stop-color="#ff9a00"/><stop offset="0.10" stop-color="#f4f000"/><stop offset="0.15" stop-color="#90f000"/><stop offset="0.22" stop-color="#10f010"/><stop offset="0.29" stop-color="#10f070"/><stop offset="0.40" stop-color="#00eef0"/><stop offset="0.52" stop-color="#0060ff"/><stop offset="0.66" stop-color="#1010f0"/><stop offset="0.76" stop-color="#2010e8"/><stop offset="0.88" stop-color="#a010f0"/><stop offset="1" stop-color="#ff10ff"/></linearGradient></defs>
<rect x="161.6" y="161" width="10" height="145" fill="url(#cb162_161)"/>
<g font-family='"Liberation Sans", sans-serif' font-weight="bold" font-size="8.3" fill="#1e1e1e">
<text x="171.79999999999998" y="161.8">2.4</text>
<text x="171.79999999999998" y="176">1.4</text>
<text x="171.79999999999998" y="198"><tspan fill-opacity="0.5">-</tspan>0.1</text>
<text x="171.79999999999998" y="219"><tspan fill-opacity="0.5">-</tspan>1.6</text>
<text x="171.79999999999998" y="248"><tspan fill-opacity="0.5">-</tspan>3.6</text>
<text x="171.79999999999998" y="277.2"><tspan fill-opacity="0.5">-</tspan>5.6</text>
<text x="171.79999999999998" y="306.8"><tspan fill-opacity="0.5">-</tspan>7.6</text>
</g>
<defs><clipPath id="cpA3"><rect x="530" y="150" width="50" height="152.8"/></clipPath></defs>
<g clip-path="url(#cpA3)"><defs><linearGradient id="cb539_162" x1="0" y1="0" x2="0" y2="1"><stop offset="0" stop-color="#ff1a10"/><stop offset="0.035" stop-color="#ff4a10"/><stop offset="0.065" stop-color="#ff9a00"/><stop offset="0.10" stop-color="#f4f000"/><stop offset="0.15" stop-color="#90f000"/><stop offset="0.22" stop-color="#10f010"/><stop offset="0.29" stop-color="#10f070"/><stop offset="0.40" stop-color="#00eef0"/><stop offset="0.52" stop-color="#0060ff"/><stop offset="0.66" stop-color="#1010f0"/><stop offset="0.76" stop-color="#2010e8"/><stop offset="0.88" stop-color="#a010f0"/><stop offset="1" stop-color="#ff10ff"/></linearGradient></defs>
<rect x="539.1999999999999" y="162.8" width="10" height="145.0" fill="url(#cb539_162)"/>
<g font-family='"Liberation Sans", sans-serif' font-weight="bold" font-size="8.3" fill="#1e1e1e">
<text x="549.4" y="162.8">0.2</text>
<text x="549.4" y="177.6"><tspan fill-opacity="0.5">-</tspan>0.8</text>
<text x="549.4" y="199.2"><tspan fill-opacity="0.5">-</tspan>2.3</text>
<text x="549.4" y="220.1"><tspan fill-opacity="0.5">-</tspan>3.8</text>
<text x="549.4" y="248.4"><tspan fill-opacity="0.5">-</tspan>5.8</text>
<text x="549.4" y="277.2"><tspan fill-opacity="0.5">-</tspan>7.8</text>
<text x="549.4" y="306.5"><tspan fill-opacity="0.5">-</tspan>9.8</text>
</g></g>
<defs><linearGradient id="cb159_557" x1="0" y1="0" x2="0" y2="1"><stop offset="0" stop-color="#ff1a10"/><stop offset="0.035" stop-color="#ff4a10"/><stop offset="0.065" stop-color="#ff9a00"/><stop offset="0.10" stop-color="#f4f000"/><stop offset="0.15" stop-color="#90f000"/><stop offset="0.22" stop-color="#10f010"/><stop offset="0.29" stop-color="#10f070"/><stop offset="0.40" stop-color="#00eef0"/><stop offset="0.52" stop-color="#0060ff"/><stop offset="0.66" stop-color="#1010f0"/><stop offset="0.76" stop-color="#2010e8"/><stop offset="0.88" stop-color="#a010f0"/><stop offset="1" stop-color="#ff10ff"/></linearGradient></defs>
<rect x="158.70000000000002" y="557.6" width="10" height="145.0" fill="url(#cb159_557)"/>
<g font-family='"Liberation Sans", sans-serif' font-weight="bold" font-size="8.3" fill="#1e1e1e">
<text x="168.9" y="557.6">0.2</text>
<text x="168.9" y="572.4"><tspan fill-opacity="0.5">-</tspan>0.8</text>
<text x="168.9" y="593.4"><tspan fill-opacity="0.5">-</tspan>2.3</text>
<text x="168.9" y="614.8"><tspan fill-opacity="0.5">-</tspan>3.8</text>
<text x="168.9" y="643.8"><tspan fill-opacity="0.5">-</tspan>5.8</text>
</g>
<defs><linearGradient id="cb536_559" x1="0" y1="0" x2="0" y2="1"><stop offset="0" stop-color="#ff1a10"/><stop offset="0.035" stop-color="#ff4a10"/><stop offset="0.065" stop-color="#ff9a00"/><stop offset="0.10" stop-color="#f4f000"/><stop offset="0.15" stop-color="#90f000"/><stop offset="0.22" stop-color="#10f010"/><stop offset="0.29" stop-color="#10f070"/><stop offset="0.40" stop-color="#00eef0"/><stop offset="0.52" stop-color="#0060ff"/><stop offset="0.66" stop-color="#1010f0"/><stop offset="0.76" stop-color="#2010e8"/><stop offset="0.88" stop-color="#a010f0"/><stop offset="1" stop-color="#ff10ff"/></linearGradient></defs>
<rect x="535.4" y="559.4" width="10" height="145.0" fill="url(#cb536_559)"/>
<g font-family='"Liberation Sans", sans-serif' font-weight="bold" font-size="8.3" fill="#1e1e1e">
<text x="545.6" y="559.4">3.3</text>
<text x="545.6" y="573.5">2.3</text>
<text x="545.6" y="594.6">0.8</text>
<text x="545.6" y="616.1"><tspan fill-opacity="0.5">-</tspan>0.7</text>
<text x="545.6" y="643.8"><tspan fill-opacity="0.5">-</tspan>2.7</text>
</g>
</svg>
</body></html>
